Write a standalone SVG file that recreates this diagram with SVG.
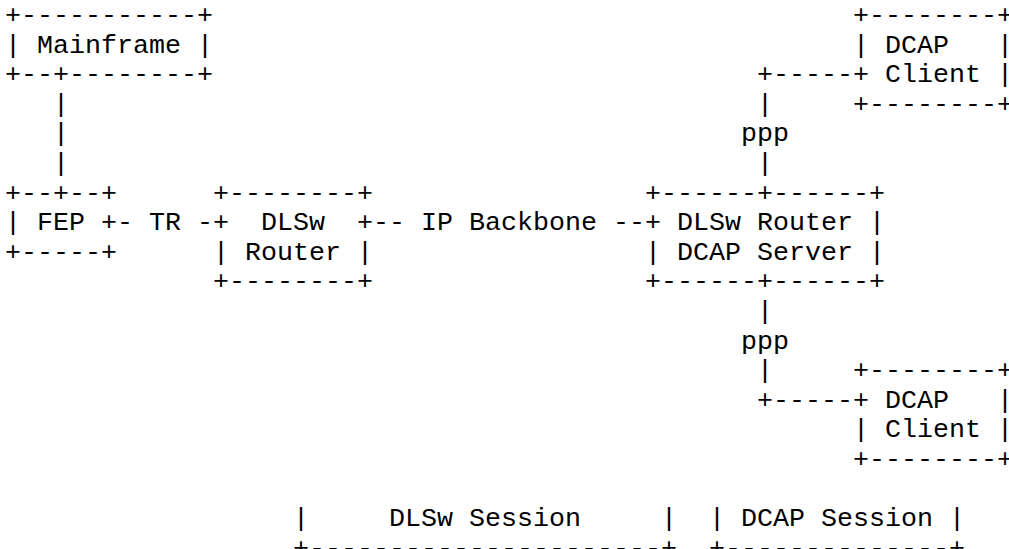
<svg xmlns="http://www.w3.org/2000/svg" width="1009" height="549" viewBox="0 0 1009 549">
<style>
.t { font-family: "Liberation Mono", "Courier New", monospace; font-size: 26.67px; fill: #000; }
</style>
<rect width="1009" height="549" fill="#fff"/>
<g id="mainframe" class="t">
<text x="5" y="23">+-----------+</text>
<text x="5" y="52.6">|</text><text x="37" y="52.6">Mainframe</text><text x="197" y="52.6">|</text>
<text x="5" y="82.2">+--+--------+</text>
</g>
<g id="fep" class="t">
<text x="5" y="200.6">+--+--+</text>
<text x="5" y="230.2">|</text><text x="37" y="230.2">FEP</text><text x="101" y="230.2">+</text>
<text x="5" y="259.8">+-----+</text>
</g>
<g id="dlsw-router" class="t">
<text x="213" y="200.6">+--------+</text>
<text x="213" y="230.2">+</text><text x="261" y="230.2">DLSw</text><text x="357" y="230.2">+</text>
<text x="213" y="259.8">|</text><text x="245" y="259.8">Router</text><text x="357" y="259.8">|</text>
<text x="213" y="289.4">+--------+</text>
</g>
<g id="dlsw-router-dcap-server" class="t">
<text x="645" y="200.6">+------+------+</text>
<text x="645" y="230.2">+</text><text x="677" y="230.2">DLSw</text><text x="757" y="230.2">Router</text><text x="869" y="230.2">|</text>
<text x="645" y="259.8">|</text><text x="677" y="259.8">DCAP</text><text x="757" y="259.8">Server</text><text x="869" y="259.8">|</text>
<text x="645" y="289.4">+------+------+</text>
</g>
<g id="dcap-client-top" class="t">
<text x="853" y="23">+--------+</text>
<text x="853" y="52.6">|</text><text x="885" y="52.6">DCAP</text><text x="997" y="52.6">|</text>
<text x="853" y="82.2">+</text><text x="885" y="82.2">Client</text><text x="997" y="82.2">|</text>
<text x="853" y="111.8">+--------+</text>
</g>
<g id="dcap-client-bottom" class="t">
<text x="853" y="378.2">+--------+</text>
<text x="853" y="407.8">+</text><text x="885" y="407.8">DCAP</text><text x="997" y="407.8">|</text>
<text x="853" y="437.4">|</text><text x="885" y="437.4">Client</text><text x="997" y="437.4">|</text>
<text x="853" y="467">+--------+</text>
</g>
<g id="connectors" class="t">
<text x="53" y="111.8">|</text>
<text x="53" y="141.4">|</text>
<text x="53" y="171">|</text>
<text x="117" y="230.2">-</text><text x="149" y="230.2">TR</text><text x="197" y="230.2">-</text>
<text x="373" y="230.2">--</text><text x="421" y="230.2">IP</text><text x="469" y="230.2">Backbone</text><text x="613" y="230.2">--</text>
<text x="757" y="82.2">+-----</text>
<text x="757" y="111.8">|</text>
<text x="741" y="141.4">ppp</text>
<text x="757" y="171">|</text>
<text x="757" y="319">|</text>
<text x="741" y="348.6">ppp</text>
<text x="757" y="378.2">|</text>
<text x="757" y="407.8">+-----</text>
</g>
<g id="dlsw-session" class="t">
<text x="293" y="526.2">|</text><text x="389" y="526.2">DLSw</text><text x="469" y="526.2">Session</text><text x="661" y="526.2">|</text>
<text x="293" y="555.8">+----------------------+</text>
</g>
<g id="dcap-session" class="t">
<text x="709" y="526.2">|</text><text x="741" y="526.2">DCAP</text><text x="821" y="526.2">Session</text><text x="949" y="526.2">|</text>
<text x="709" y="555.8">+--------------+</text>
</g>
</svg>
